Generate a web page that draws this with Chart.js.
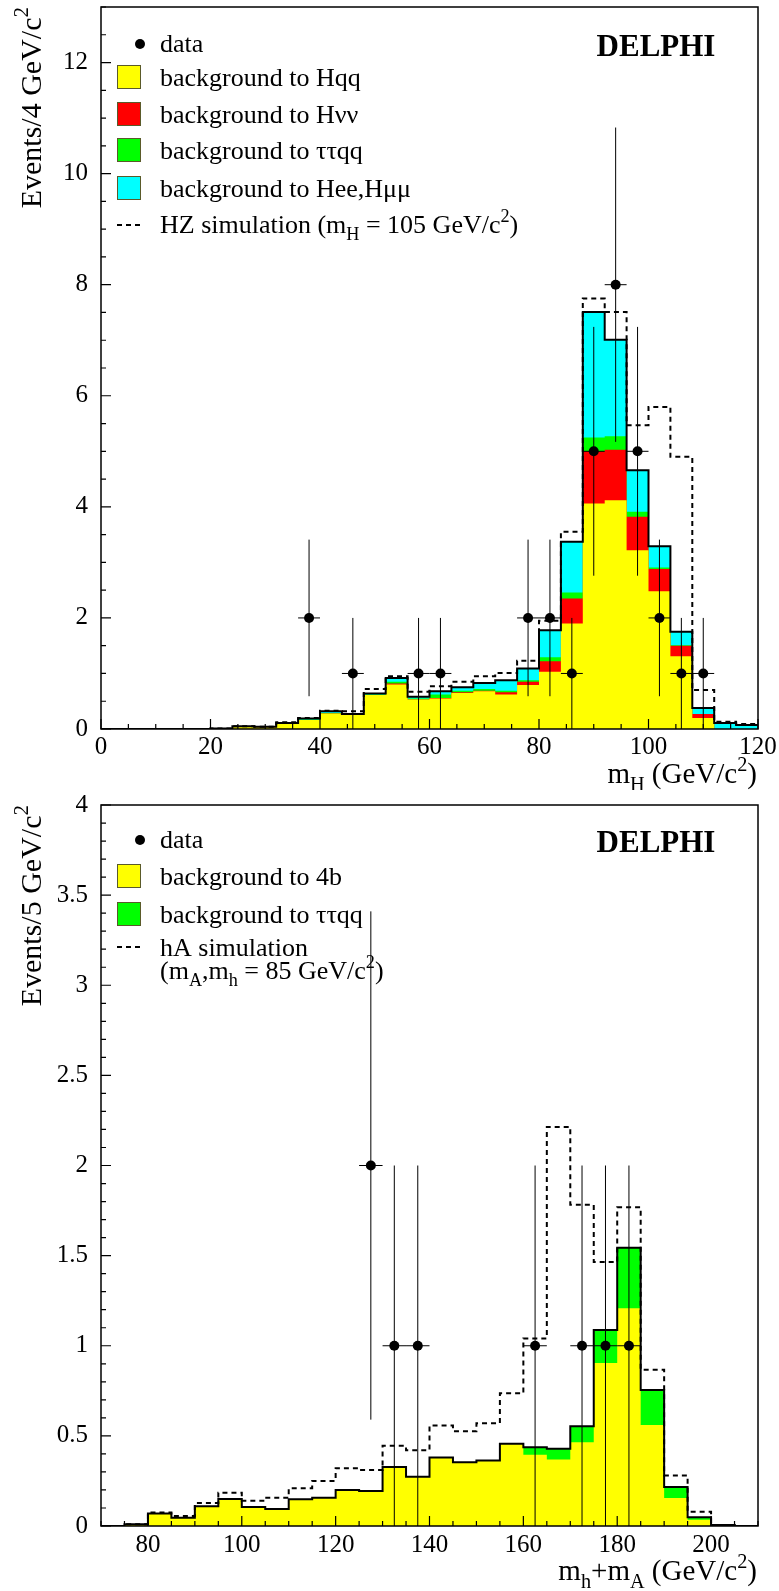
<!DOCTYPE html>
<html>
<head>
<meta charset="utf-8">
<script src="https://cdn.jsdelivr.net/npm/chart.js@4.4.1/dist/chart.umd.min.js"></script>
<style>
  html, body { margin: 0; padding: 0; background: #fff; }
  #wrap { position: relative; width: 779px; height: 1591px; }
  canvas { position: absolute; left: 0; }
</style>
</head>
<body>
<div id="wrap">
  <canvas id="topPanel" width="779" height="790" style="top:0"></canvas>
  <canvas id="bottomPanel" width="779" height="801" style="top:790px"></canvas>
</div>
<script>
// ---- top panel : m_H, 4 GeV/c2 bins ----
const hzBinLow = [0, 4, 8, 12, 16, 20, 24, 28, 32, 36, 40, 44, 48, 52, 56, 60, 64, 68, 72, 76, 80, 84, 88, 92, 96, 100, 104, 108, 112, 116];
const hzBinWidth = 4;
const bgHqq   = [0, 0, 0, 0, 0, 0.01, 0.04, 0.03, 0.10, 0.16, 0.28, 0.25, 0.61, 0.80, 0.53, 0.55, 0.65, 0.68, 0.62, 0.79, 1.03, 1.90, 4.06, 4.12, 3.22, 2.48, 1.31, 0.20, 0, 0];
const bgHnn   = [0, 0, 0, 0, 0, 0, 0, 0, 0, 0, 0, 0, 0, 0.02, 0, 0.01, 0.01, 0.01, 0.04, 0.06, 0.19, 0.45, 0.94, 0.91, 0.60, 0.40, 0.19, 0.07, 0, 0];
const bgTTqqH = [0, 0, 0, 0, 0, 0, 0, 0, 0, 0.01, 0.01, 0, 0.01, 0.03, 0.02, 0.06, 0.03, 0.03, 0.03, 0.03, 0.07, 0.11, 0.25, 0.24, 0.09, 0.03, 0.01, 0, 0, 0];
const bgHll   = [0, 0, 0, 0, 0, 0, 0.01, 0.01, 0.01, 0.02, 0.03, 0.02, 0.02, 0.07, 0.03, 0.06, 0.06, 0.11, 0.19, 0.21, 0.49, 0.91, 2.26, 1.74, 0.75, 0.38, 0.24, 0.11, 0.11, 0.07];
const hzSignal = [0, 0, 0, 0, 0, 0.01, 0.05, 0.04, 0.12, 0.20, 0.33, 0.32, 0.72, 0.95, 0.67, 0.77, 0.85, 0.95, 1.01, 1.23, 1.95, 3.55, 7.75, 7.51, 5.47, 5.80, 4.90, 0.70, 0.13, 0.09];
const hzDataX   = [38, 46, 58, 62, 78, 82, 86, 90, 94, 98, 102, 106, 110];
const hzDataN   = [2, 1, 1, 1, 2, 2, 1, 5, 8, 5, 2, 1, 1];
const hzDataErr = [1.41, 1, 1, 1, 1.41, 1.41, 1, 2.24, 2.83, 2.24, 1.41, 1, 1];

// ---- bottom panel : m_h+m_A, 5 GeV/c2 bins ----
const haBinLow = [70, 75, 80, 85, 90, 95, 100, 105, 110, 115, 120, 125, 130, 135, 140, 145, 150, 155, 160, 165, 170, 175, 180, 185, 190, 195, 200, 205];
const haBinWidth = 5;
const bg4b    = [0, 0.01, 0.07, 0.046, 0.11, 0.15, 0.105, 0.094, 0.148, 0.157, 0.20, 0.194, 0.327, 0.273, 0.38, 0.354, 0.363, 0.456, 0.395, 0.369, 0.465, 0.904, 1.208, 0.561, 0.155, 0.035, 0.005, 0];
const bgTTqqA = [0, 0, 0, 0, 0, 0, 0, 0, 0, 0, 0, 0, 0, 0, 0, 0, 0, 0, 0.042, 0.059, 0.088, 0.183, 0.336, 0.194, 0.061, 0.013, 0, 0];
const haSignal = [0, 0.01, 0.075, 0.055, 0.127, 0.185, 0.14, 0.157, 0.21, 0.25, 0.32, 0.31, 0.445, 0.42, 0.557, 0.526, 0.57, 0.736, 1.04, 2.214, 1.782, 1.465, 1.768, 0.867, 0.28, 0.079, 0.005, 0];
const haDataX   = [127.5, 132.5, 137.5, 162.5, 172.5, 177.5, 182.5];
const haDataN   = [2, 1, 1, 1, 1, 1, 1];
const haDataErr = [1.41, 1, 1, 1, 1, 1, 1];

const YELLOW = '#ffff00', RED = '#ff0000', GREEN = '#00ff00', CYAN = '#00ffff';
const SERIF = '"Liberation Serif", "DejaVu Serif", serif';

// step histogram points (value i holds from low[i] to low[i+1])
function histPoints(lows, width, vals) {
  const pts = lows.map((lo, i) => ({ x: lo, y: vals[i] }));
  pts.push({ x: lows[lows.length - 1] + width, y: vals[vals.length - 1] });
  return pts;
}
function stackSum(list) {
  return list[0].map((_, i) => list.reduce((s, a) => s + a[i], 0));
}
function errorSegments(xs, ys, errs, halfW) {
  const pts = [];
  xs.forEach((x, i) => {
    pts.push({ x: x, y: Math.max(0, ys[i] - errs[i]) }, { x: x, y: ys[i] + errs[i] }, { x: x, y: null });
    pts.push({ x: x - halfW, y: ys[i] }, { x: x + halfW, y: ys[i] }, { x: x + halfW, y: null });
  });
  return pts;
}

function richWidth(ctx, parts, size) {
  let w = 0;
  for (const [t, m] of parts) {
    ctx.font = (m ? size * 0.7 : size) + 'px ' + SERIF;
    w += ctx.measureText(t).width;
  }
  return w;
}
function drawRich(ctx, parts, x, y, size, align) {
  if (align === 'right') x -= richWidth(ctx, parts, size);
  ctx.textAlign = 'left';
  ctx.textBaseline = 'alphabetic';
  ctx.fillStyle = '#000';
  for (const [t, m] of parts) {
    const s = m ? size * 0.7 : size;
    ctx.font = s + 'px ' + SERIF;
    const dy = m === 1 ? size * 0.28 : (m === 2 ? -size * 0.42 : 0);
    ctx.fillText(t, x, y + dy);
    x += ctx.measureText(t).width;
  }
}

// frame, inward ticks, titles, legend, experiment label
const decor = {
  id: 'decor',
  afterDraw(chart, args, o) {
    const ctx = chart.ctx;
    const a = chart.chartArea;
    const xs = chart.scales.x, ys = chart.scales.y;
    ctx.save();
    ctx.strokeStyle = '#000';
    ctx.lineWidth = 1.2;
    ctx.beginPath();
    const nx = Math.round((xs.max - xs.min) / o.xMinor);
    for (let k = 0; k <= nx; k++) {
      const v = xs.min + k * o.xMinor;
      const major = Math.abs(v / o.xMajor - Math.round(v / o.xMajor)) < 1e-6;
      const px = xs.getPixelForValue(v);
      ctx.moveTo(px, a.bottom);
      ctx.lineTo(px, a.bottom - (major ? 10 : 5));
    }
    const ny = Math.round((ys.max - ys.min) / o.yMinor);
    for (let k = 0; k <= ny; k++) {
      const v = ys.min + k * o.yMinor;
      const major = Math.abs(v / o.yMajor - Math.round(v / o.yMajor)) < 1e-6;
      const py = ys.getPixelForValue(v);
      ctx.moveTo(a.left, py);
      ctx.lineTo(a.left + (major ? 10 : 5), py);
    }
    ctx.stroke();
    ctx.lineWidth = 1.5;
    ctx.strokeRect(a.left, a.top, a.right - a.left, a.bottom - a.top);

    // axis titles
    drawRich(ctx, o.xTitle, a.right - 1, o.xTitleY, 29, 'right');
    ctx.save();
    ctx.translate(41, a.top);
    ctx.rotate(-Math.PI / 2);
    drawRich(ctx, o.yTitle, 0, 0, 30, 'right');
    ctx.restore();

    // DELPHI
    ctx.font = 'bold 31px ' + SERIF;
    ctx.textAlign = 'center';
    ctx.textBaseline = 'alphabetic';
    ctx.fillStyle = '#000';
    ctx.fillText('DELPHI', 656, a.top + o.labelDy);

    // legend
    for (const it of o.legend) {
      if (it.kind === 'dot') {
        ctx.fillStyle = '#000';
        ctx.beginPath();
        ctx.arc(140, it.y, 5, 0, Math.PI * 2);
        ctx.fill();
      } else if (it.kind === 'box') {
        ctx.fillStyle = it.color;
        ctx.fillRect(117, it.y - 12, 24, 24);
        ctx.strokeStyle = '#5a5a2a';
        ctx.lineWidth = 1;
        ctx.strokeRect(117.5, it.y - 11.5, 23, 23);
      } else if (it.kind === 'dash') {
        ctx.strokeStyle = '#000';
        ctx.lineWidth = 2;
        ctx.setLineDash([5, 4]);
        ctx.beginPath();
        ctx.moveTo(117, it.y);
        ctx.lineTo(142, it.y);
        ctx.stroke();
        ctx.setLineDash([]);
      }
      it.lines.forEach((ln, j) => drawRich(ctx, ln, 160, it.base + j * 23, 26, 'left'));
    }
    ctx.restore();
  }
};

function majorTicks(min, max, step) {
  const out = [];
  for (let k = Math.ceil(min / step - 1e-9); k * step <= max + 1e-9; k++) out.push({ value: +(k * step).toFixed(6) });
  return out;
}

function makePanel(id, cfg) {
  const ctx = document.getElementById(id).getContext('2d');
  const layers = cfg.layers.map((l, i) => ({
    label: l.label,
    data: histPoints(cfg.lows, cfg.width, stackSum(cfg.layers.slice(0, i + 1).map(q => q.vals))),
    stepped: true,
    fill: 'origin',
    backgroundColor: l.color,
    borderColor: 'rgba(0,0,0,0)',
    borderWidth: 1,
    pointRadius: 0
  }));
  const total = stackSum(cfg.layers.map(q => q.vals));

  return new Chart(ctx, {
    type: 'line',
    data: {
      datasets: [
        {
          label: 'data',
          data: cfg.dataX.map((x, i) => ({ x: x, y: cfg.dataN[i] })),
          showLine: false,
          pointRadius: 5,
          pointBackgroundColor: '#000',
          pointBorderWidth: 0
        },
        {
          label: 'errors',
          data: errorSegments(cfg.dataX, cfg.dataN, cfg.dataErr, cfg.width / 2),
          borderColor: '#000',
          borderWidth: 1,
          pointRadius: 0,
          spanGaps: false,
          fill: false
        },
        {
          label: 'signal',
          data: histPoints(cfg.lows, cfg.width, cfg.signal),
          stepped: true,
          borderColor: '#000',
          borderWidth: 2,
          borderDash: [5, 4],
          pointRadius: 0,
          fill: false
        },
        {
          label: 'total',
          data: histPoints(cfg.lows, cfg.width, total),
          stepped: true,
          borderColor: '#000',
          borderWidth: 2,
          pointRadius: 0,
          fill: false
        },
        ...layers
      ]
    },
    options: {
      responsive: false,
      animation: false,
      events: [],
      layout: { padding: { top: cfg.padTop, right: 21, left: 0, bottom: 0 } },
      scales: {
        x: {
          type: 'linear',
          min: cfg.xMin,
          max: cfg.xMax,
          grid: { display: false, drawTicks: false },
          border: { display: false },
          afterBuildTicks: s => { s.ticks = majorTicks(cfg.xMin, cfg.xMax, cfg.xMajor); },
          ticks: {
            autoSkip: false,
            maxRotation: 0,
            padding: cfg.xLabelPad,
            color: '#000',
            font: { family: SERIF, size: 25 },
            callback: v => String(+v.toFixed(3))
          },
          afterFit: s => { s.height = cfg.xAxisH; s.paddingLeft = 0; s.paddingRight = 0; }
        },
        y: {
          type: 'linear',
          min: 0,
          max: cfg.yMax,
          grid: { display: false, drawTicks: false },
          border: { display: false },
          afterBuildTicks: s => { s.ticks = majorTicks(0, cfg.yMax, cfg.yMajor); },
          ticks: {
            autoSkip: false,
            padding: 13,
            color: '#000',
            font: { family: SERIF, size: 25 },
            callback: v => String(+v.toFixed(3))
          },
          afterFit: s => { s.width = 101; s.paddingTop = 0; s.paddingBottom = 0; }
        }
      },
      plugins: {
        legend: { display: false },
        tooltip: { enabled: false },
        decor: {
          xMajor: cfg.xMajor, xMinor: cfg.xMinor, yMajor: cfg.yMajor, yMinor: cfg.yMinor,
          xTitle: cfg.xTitle, xTitleY: cfg.xTitleY, yTitle: cfg.yTitle,
          legend: cfg.legend, labelDy: cfg.labelDy
        }
      }
    },
    plugins: [decor]
  });
}

makePanel('topPanel', {
  lows: hzBinLow, width: hzBinWidth,
  layers: [
    { label: 'background to Hqq', vals: bgHqq, color: YELLOW },
    { label: 'background to Hνν', vals: bgHnn, color: RED },
    { label: 'background to ττqq', vals: bgTTqqH, color: GREEN },
    { label: 'background to Hee,Hμμ', vals: bgHll, color: CYAN }
  ],
  signal: hzSignal,
  dataX: hzDataX, dataN: hzDataN, dataErr: hzDataErr,
  xMin: 0, xMax: 120, xMajor: 20, xMinor: 5,
  yMax: 13, yMajor: 2, yMinor: 0.5,
  padTop: 7, xAxisH: 61, xLabelPad: 3,
  xTitle: [['m'], ['H', 1], [' (GeV/c'], ['2', 2], [')']], xTitleY: 783,
  yTitle: [['Events/4 GeV/c'], ['2', 2]],
  labelDy: 49,
  legend: [
    { kind: 'dot', y: 44, base: 52, lines: [[['data']]] },
    { kind: 'box', color: YELLOW, y: 77, base: 86, lines: [[['background to Hqq']]] },
    { kind: 'box', color: RED, y: 114, base: 123, lines: [[['background to Hνν']]] },
    { kind: 'box', color: GREEN, y: 150, base: 159, lines: [[['background to ττqq']]] },
    { kind: 'box', color: CYAN, y: 188, base: 197, lines: [[['background to Hee,Hμμ']]] },
    { kind: 'dash', y: 225, base: 233, lines: [[['HZ simulation (m'], ['H', 1], [' = 105 GeV/c'], ['2', 2], [')']]] }
  ]
});

makePanel('bottomPanel', {
  lows: haBinLow, width: haBinWidth,
  layers: [
    { label: 'background to 4b', vals: bg4b, color: YELLOW },
    { label: 'background to ττqq', vals: bgTTqqA, color: GREEN }
  ],
  signal: haSignal,
  dataX: haDataX, dataN: haDataN, dataErr: haDataErr,
  xMin: 70, xMax: 210, xMajor: 20, xMinor: 5,
  yMax: 4, yMajor: 0.5, yMinor: 0.1,
  padTop: 15, xAxisH: 65, xLabelPad: 4,
  xTitle: [['m'], ['h', 1], ['+m'], ['A', 1], [' (GeV/c'], ['2', 2], [')']], xTitleY: 790,
  yTitle: [['Events/5 GeV/c'], ['2', 2]],
  labelDy: 47,
  legend: [
    { kind: 'dot', y: 50, base: 58, lines: [[['data']]] },
    { kind: 'box', color: YELLOW, y: 86, base: 95, lines: [[['background to 4b']]] },
    { kind: 'box', color: GREEN, y: 124, base: 133, lines: [[['background to ττqq']]] },
    { kind: 'dash', y: 157, base: 166, lines: [[['hA simulation']], [['(m'], ['A', 1], [',m'], ['h', 1], [' = 85 GeV/c'], ['2', 2], [')']]] }
  ]
});
</script>
</body>
</html>
